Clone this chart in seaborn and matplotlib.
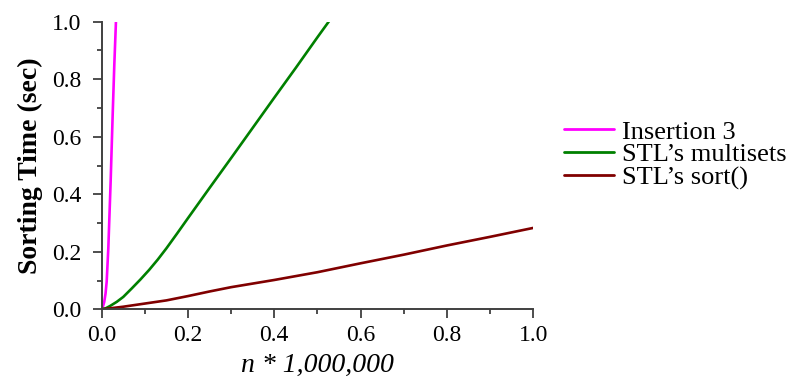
import numpy as np
import pandas as pd
import matplotlib
matplotlib.use("Agg")
import matplotlib.pyplot as plt
import seaborn as sns
from matplotlib.ticker import MultipleLocator

# data
ins_x = [0.0, 0.003, 0.006, 0.009, 0.0116, 0.0154, 0.0208, 0.0255, 0.0293, 0.0331, 0.034]
ins_y = [0.0, 0.010, 0.026, 0.055, 0.096, 0.212, 0.444, 0.676, 0.850, 1.000, 1.04]

mset_x = [0.0, 0.01, 0.02, 0.035, 0.05, 0.07, 0.09, 0.11, 0.13, 0.15, 0.175, 0.2, 0.25, 0.3, 0.35, 0.4, 0.45, 0.5, 0.526, 0.54]
mset_y = [0.0, 0.004, 0.012, 0.026, 0.043, 0.073, 0.104, 0.137, 0.173, 0.212, 0.264, 0.317, 0.422, 0.526, 0.631, 0.736, 0.84, 0.946, 1.0, 1.03]

sort_x = [0.0, 0.05, 0.1, 0.15, 0.2, 0.25, 0.3, 0.4, 0.5, 0.6, 0.7, 0.8, 0.9, 1.0]
sort_y = [0.0, 0.009, 0.020, 0.031, 0.046, 0.062, 0.077, 0.102, 0.129, 0.160, 0.190, 0.222, 0.252, 0.283]

names = ["Insertion 3", "STL\u2019s multisets", "STL\u2019s sort()"]
colors = ["#ff00ff", "#008000", "#800000"]

df = pd.concat([
    pd.DataFrame({"n": ins_x, "t": ins_y, "alg": names[0]}),
    pd.DataFrame({"n": mset_x, "t": mset_y, "alg": names[1]}),
    pd.DataFrame({"n": sort_x, "t": sort_y, "alg": names[2]}),
])

sns.set_style("ticks")
plt.rcParams['font.family'] = ['Liberation Serif', 'DejaVu Serif']
plt.rcParams['text.color'] = 'black'
plt.rcParams['axes.labelcolor'] = 'black'
plt.rcParams['xtick.labelcolor'] = 'black'
plt.rcParams['ytick.labelcolor'] = 'black'

fig = plt.figure(figsize=(8.12, 3.9), dpi=100)
ax = fig.add_axes([0.1252, 0.2069, 0.5315, 0.7374])

sns.lineplot(data=df, x="n", y="t", hue="alg", palette=dict(zip(names, colors)),
             sort=False, estimator=None, linewidth=1.9, ax=ax)

ax.set_xlim(0, 1.0)
ax.set_ylim(0, 1.0)
ax.xaxis.set_major_locator(MultipleLocator(0.2))
ax.xaxis.set_minor_locator(MultipleLocator(0.1))
ax.yaxis.set_major_locator(MultipleLocator(0.2))
ax.yaxis.set_minor_locator(MultipleLocator(0.1))
ax.set_xticklabels([f"{v:.1f}" for v in ax.get_xticks()])
ax.set_yticklabels([f"{v:.1f}" for v in ax.get_yticks()])

spine_col = "#404040"
for side in ["top", "right"]:
    ax.spines[side].set_visible(False)
for side in ["left", "bottom"]:
    ax.spines[side].set_color(spine_col)
    ax.spines[side].set_linewidth(1.4)
ax.tick_params(which="major", length=6.5, width=1.3, color=spine_col, labelsize=17, labelcolor="black")
ax.tick_params(which="minor", length=3.5, width=1.3, color=spine_col)
ax.tick_params(axis="x", which="major", pad=5)
ax.tick_params(axis="y", which="major", pad=8)

ax.set_xlabel("n * 1,000,000", fontsize=20, fontstyle="italic", labelpad=5, color="black")
ax.set_ylabel("Sorting Time (sec)", fontsize=20, fontweight="bold", labelpad=6.5, color="black")

leg = ax.legend(loc="upper left", bbox_to_anchor=(1.072, 0.658), frameon=False,
                fontsize=19, handlelength=1.9, handletextpad=0.3, labelspacing=-0.02,
                borderaxespad=0, borderpad=0)
for line in leg.get_lines():
    line.set_linewidth(2)
for txt in leg.get_texts():
    txt.set_color("black")

fig.savefig("out.png", dpi=100)
